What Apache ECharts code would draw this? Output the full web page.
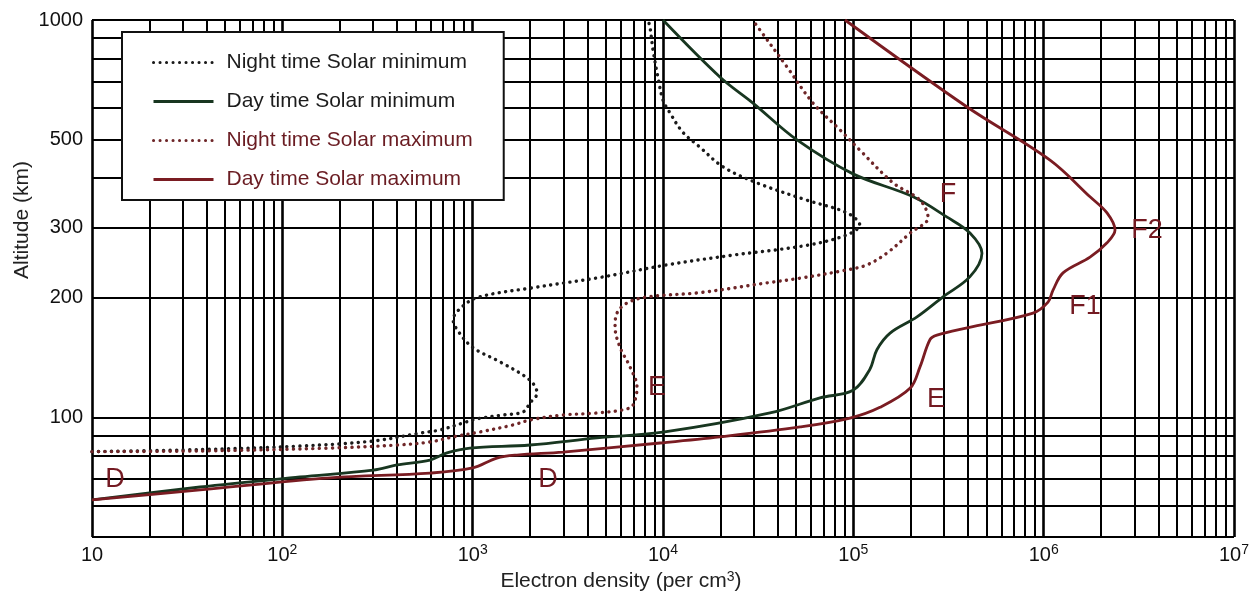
<!DOCTYPE html>
<html><head><meta charset="utf-8">
<script src="https://cdn.jsdelivr.net/npm/echarts@6/dist/echarts.min.js"></script>
<style>html,body{margin:0;padding:0;background:#fff}#c{width:1255px;height:592px}</style>
</head><body><div id="c"></div>
<script>
// ---------- data ----------
const seriesNames = ['Night time Solar minimum', 'Day time Solar minimum', 'Night time Solar maximum', 'Day time Solar maximum'];

// [electron density (per cm^3), altitude (km)]
const nightMin = [[10,82],[37,83],[124,84.7],[300,87.2],[530,91.3],[675,93],[890,96.8],[1050,99.1],[1440,101.4],[1840,103.2],[2000,108.7],[2180,115],[2000,124],[1390,138],[1000,150],[830,166],[790,176],[840,186],[1050,200],[2080,212],[4670,225],[10500,242],[23300,256],[57000,271],[92700,288],[108000,305],[92700,327],[57000,352],[31200,389],[20700,427],[15600,479],[12700,522],[10900,583],[10000,629],[9400,719],[8860,841],[8540,960],[8340,1000]];
const dayMin = [[10,62],[37,66.8],[124,70.8],[300,73.7],[400,75.9],[597,78.1],[733,81.4],[968,83.7],[2000,85.2],[4500,88.8],[10200,91.9],[36500,102.6],[66800,112],[99600,117],[122000,132],[133000,148],[156000,163],[216000,179],[296000,201],[410000,226],[474000,259],[410000,291],[311000,319],[206000,359],[99600,410],[50600,499],[29700,618],[19900,719],[10000,1000]];
const nightMax = [[10,82],[37,82.3],[178,83.7],[400,85.2],[597,86.7],[788,89.3],[1093,91.9],[1630,95.7],[2000,98.5],[2980,101.4],[4500,102.6],[6710,105.6],[7130,110.6],[7300,119],[6710,134],[5950,150],[5600,169],[5730,183],[6470,194],[8280,201],[15600,206],[35200,218],[52500,224],[92700,235],[118000,242],[150000,259],[199000,291],[247000,318],[224000,352],[162000,389],[108000,471],[85100,529],[61400,618],[44800,762],[32300,944],[29600,1000]];
const dayMax = [[10,62],[37,65.7],[178,70.4],[597,72.4],[1000,74.6],[1340,79],[1710,80.4],[2980,81.8],[9650,86.2],[19900,89.3],[52500,94.6],[96100,99.6],[138000,106],[199000,118.5],[224000,134],[253000,157],[275000,161],[396000,168],[879000,183],[1054000,195],[1120000,209],[1264000,231],[1752000,253],[2152000,275],[2371000,296],[2152000,327],[1752000,359],[1080000,444],[396000,604],[90400,1000]];

// region annotations
const annoText = ['D', 'D', 'E', 'E', 'F', 'F1', 'F2'];
const annoX = [13.2, 2490, 9300, 272000, 314000, 1650000, 3490000];
const annoY = [69.6, 69.6, 119, 110.6, 363, 190, 296];

// axes / grid
const xDecades = [10, 100, 1000, 10000, 100000, 1000000, 10000000];
const yGridValues = [50, 60, 70, 80, 90, 100, 200, 300, 400, 500, 600, 700, 800, 900, 1000];
const yTickLabels = [100, 200, 300, 500, 1000];

// ---------- styles ----------
const FONT = '"Liberation Sans", Arial, sans-serif';
const colDayMin = '#183620';
const colNightMin = '#1a1a1a';
const colDayMax = '#7a1c22';
const colNightMax = '#6e2628';
const colAnno = '#741a22';

const xGridValues = [];
xDecades.forEach((d, i) => {
  if (i < xDecades.length - 1) { for (let m = 1; m <= 9; m++) xGridValues.push(d * m); }
  else xGridValues.push(d);
});

const vLines = xGridValues.map(v => ({ xAxis: v, lineStyle: { width: xDecades.includes(v) ? 2.6 : 2 }, label: { show: false } }));
const hLines = yGridValues.map(v => ({
  yAxis: v,
  lineStyle: { width: 2.2 },
  label: { show: yTickLabels.includes(v), position: 'start', distance: 9, formatter: String(v), fontSize: 20, fontFamily: FONT, color: '#111' }
}));

function xLabel(v) {
  const p = Math.round(Math.log10(v));
  if (p === 1) return '{b|10}';
  return '{b|10}{s|' + p + '}';
}

const dotted = [0.1, 6.4];

const option = {
  animation: false,
  grid: { left: 92, right: 21, top: 20, bottom: 55, containLabel: false },
  xAxis: {
    type: 'log', logBase: 10, min: 10, max: 10000000,
    axisLine: { show: false }, axisTick: { show: false }, splitLine: { show: false },
    axisLabel: {
      margin: 6, formatter: xLabel, color: '#111',
      rich: {
        b: { fontSize: 20, fontFamily: FONT, color: '#111', lineHeight: 22, verticalAlign: 'bottom' },
        s: { fontSize: 14, fontFamily: FONT, color: '#111', lineHeight: 22, verticalAlign: 'top', padding: [0, 0, 10, 0] }
      }
    }
  },
  yAxis: {
    type: 'log', logBase: 10, min: 50, max: 1000,
    axisLine: { show: false }, axisTick: { show: false }, splitLine: { show: false },
    axisLabel: { show: false }
  },
  legend: {
    orient: 'vertical', left: 122, top: 32, padding: [20, 31, 10, 30],
    itemWidth: 60, itemHeight: 21, itemGap: 18,
    backgroundColor: '#fff', borderColor: '#111', borderWidth: 2, borderRadius: 0,
    z: 10,
    itemStyle: { opacity: 0 },
    lineStyle: { width: 3 },
    textStyle: { fontSize: 21, fontFamily: FONT, lineHeight: 21, padding: [0, 0, 0, 8] },
    data: [
      { name: seriesNames[0], textStyle: { color: '#1c1c1c' } },
      { name: seriesNames[1], textStyle: { color: '#1c1c1c' } },
      { name: seriesNames[2], textStyle: { color: '#6a1c22' } },
      { name: seriesNames[3], textStyle: { color: '#6a1c22' } }
    ]
  },
  graphic: [
    { type: 'text', x: 22, y: 220, rotation: Math.PI / 2,
      style: { text: 'Altitude (km)', font: '21px ' + FONT, fill: '#222', align: 'center', verticalAlign: 'middle', textAlign: 'center', textVerticalAlign: 'middle' } },
    { type: 'text', x: 621, y: 581,
      style: { text: '{a|Electron density (per cm}{s|3}{a|)}', fill: '#222', align: 'center', verticalAlign: 'middle', textAlign: 'center', textVerticalAlign: 'middle',
        rich: { a: { fontSize: 21, fontFamily: FONT, fill: '#222', color: '#222', lineHeight: 22, verticalAlign: 'bottom' },
                s: { fontSize: 14, fontFamily: FONT, fill: '#222', color: '#222', lineHeight: 22, verticalAlign: 'top', padding: [0, 0, 10, 0] } } } }
  ],
  series: [
    {
      name: 'grid', type: 'line', data: [], silent: true, z: 1, legendHoverLink: false,
      markLine: {
        z: 1, silent: true, symbol: ['none', 'none'], animation: false,
        lineStyle: { color: '#000', type: 'solid', width: 2 },
        emphasis: { disabled: true },
        data: vLines.concat(hLines)
      }
    },
    { name: seriesNames[0], type: 'line', data: nightMin, smooth: 0.35, symbol: 'none', z: 2,
      lineStyle: { color: colNightMin, width: 3.4, type: dotted, cap: 'round' }, itemStyle: { color: colNightMin } },
    { name: seriesNames[1], type: 'line', data: dayMin, smooth: 0.35, symbol: 'none', z: 2,
      lineStyle: { color: colDayMin, width: 2.8 }, itemStyle: { color: colDayMin } },
    { name: seriesNames[2], type: 'line', data: nightMax, smooth: 0.35, symbol: 'none', z: 2,
      lineStyle: { color: colNightMax, width: 3.4, type: dotted, cap: 'round' }, itemStyle: { color: colNightMax } },
    { name: seriesNames[3], type: 'line', data: dayMax, smooth: 0.35, symbol: 'none', z: 2,
      lineStyle: { color: colDayMax, width: 2.8 }, itemStyle: { color: colDayMax } },
    { name: 'annotations', type: 'scatter', symbolSize: 0, z: 3, silent: true,
      itemStyle: { opacity: 1 },
      data: annoText.map((t, i) => ({ name: t, value: [annoX[i], annoY[i]] })),
      label: { show: true, position: 'inside', formatter: p => p.name, fontSize: 27, fontFamily: FONT, color: colAnno, opacity: 1 } }
  ]
};

const chart = echarts.init(document.getElementById('c'), null, { renderer: 'canvas' });
chart.setOption(option);
</script>
</body></html>
